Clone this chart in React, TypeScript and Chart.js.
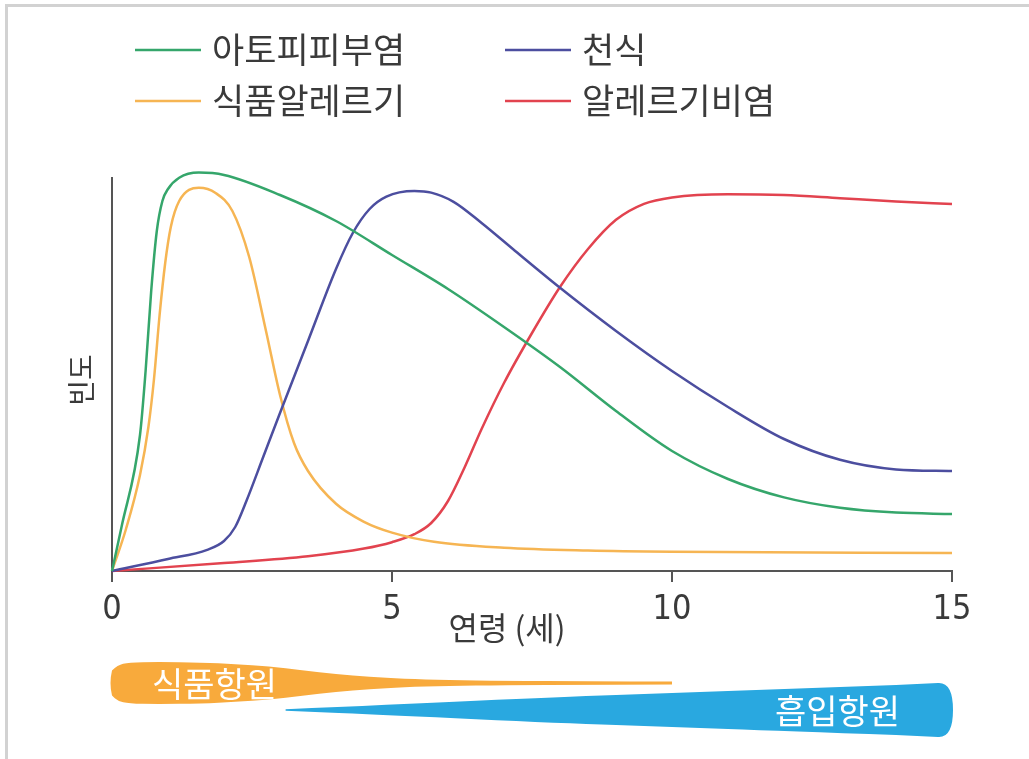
import React, { useEffect, useRef } from 'react';
import { Chart, registerables } from 'chart.js';

Chart.register(...registerables);

// ---------- data ----------
const xTickValues = [0, 5, 10, 15];
const seriesLabels = ['아토피피부염', '천식', '식품알레르기', '알레르기비염'];

const atopicAges = [0, 0.17, 0.5, 0.6, 0.7, 0.8, 0.9, 1.0, 1.2, 1.55, 2, 3, 4, 5, 6, 7, 8, 9, 10, 11, 12, 13, 14, 15];
const atopicValues = [0, 11, 34, 50, 70, 85, 92.5, 95.5, 98.3, 99.6, 99, 94, 87.5, 79, 70.5, 61, 51, 40, 30, 23, 18.4, 15.8, 14.6, 14.25];

const asthmaAges = [0, 1, 1.7, 2.0, 2.2, 2.4, 2.7, 3.0, 3.5, 4.0, 4.3, 4.6, 4.9, 5.4, 5.7, 6.1, 6.6, 7.2, 8, 9, 10, 11, 12, 13, 14, 15];
const asthmaValues = [0, 3, 5.3, 7.5, 11, 17.5, 28.5, 39.5, 57.5, 75.5, 84.5, 90.5, 93.6, 95, 94.6, 92.3, 87, 80, 70.8, 60, 50, 41, 33, 27.8, 25.4, 25];

const foodAllergyAges = [0, 0.25, 0.5, 0.65, 0.75, 0.85, 0.95, 1.05, 1.2, 1.55, 1.85, 2.15, 2.45, 2.75, 3.0, 3.25, 3.5, 4.0, 4.5, 5.0, 5.75, 7, 8.5, 10, 15];
const foodAllergyValues = [0, 10.5, 24, 36, 48, 64, 77, 86, 92.5, 95.8, 94.5, 90, 78.5, 60, 44, 32, 25, 16.8, 12.3, 9.6, 7.3, 5.8, 5.1, 4.8, 4.5];

const rhinitisAges = [0, 2, 3.5, 4.5, 5.0, 5.4, 5.7, 6.0, 6.3, 6.6, 7.0, 7.5, 8.0, 8.5, 9.0, 9.5, 10, 11, 12, 13, 14, 15];
const rhinitisValues = [0, 2, 3.7, 5.6, 7.2, 9.2, 12, 17.5, 26, 35.5, 47, 59.5, 71, 80.5, 87.8, 91.8, 93.4, 94.2, 94, 93.2, 92.4, 91.75];

// antigen exposure bands (relative intensity 0..1)
const foodAntigenLabel = '식품항원';
const foodAntigenAges = [0, 0.1, 0.3, 0.8, 1.6, 2.2, 2.8, 3.4, 4.0, 4.6, 5.2, 6.0, 7.0, 8.5, 10];
const foodAntigenLevels = [0.6, 0.85, 0.98, 1, 0.98, 0.9, 0.8, 0.6, 0.42, 0.3, 0.2, 0.14, 0.1, 0.08, 0.07];

const inhalantAntigenLabel = '흡입항원';
const inhalantAntigenAges = [3.1, 5, 8, 10, 12, 14, 15];
const inhalantAntigenLevels = [0.03, 0.2, 0.49, 0.63, 0.78, 0.93, 1.0];

// ---------- styles ----------
const W = 1029;
const H = 759;
const KR = '"Noto Sans CJK KR", "Noto Sans", sans-serif';
const NUM = '"Liberation Sans Narrow", "DejaVu Sans Condensed", "Liberation Sans", sans-serif';
const COLORS = ['#35a66b', '#4c4e9f', '#f6b553', '#e2434f'];
const AXIS = '#555555';
const TEXT = '#3a3a3a';
const FOOD_BAND = '#f8aa3c';
const INHAL_BAND = '#29a8e0';

function smoothPath(ctx: CanvasRenderingContext2D, pts: { x: number; y: number }[], move: boolean) {
  if (move) ctx.moveTo(pts[0].x, pts[0].y);
  else ctx.lineTo(pts[0].x, pts[0].y);
  for (let i = 1; i < pts.length - 1; i++) {
    const mx = (pts[i].x + pts[i + 1].x) / 2;
    const my = (pts[i].y + pts[i + 1].y) / 2;
    ctx.quadraticCurveTo(pts[i].x, pts[i].y, mx, my);
  }
  const last = pts[pts.length - 1];
  ctx.lineTo(last.x, last.y);
}

export default function App() {
  const ref = useRef<HTMLCanvasElement>(null);

  useEffect(() => {
    document.body.style.margin = '0';
    const canvas = ref.current!;
    const toPts = (xs: number[], ys: number[]) => xs.map((x, i) => ({ x, y: ys[i] }));
    const line = (label: string, color: string, xs: number[], ys: number[]) => ({
      label,
      data: toPts(xs, ys),
      borderColor: color,
      backgroundColor: color,
      borderWidth: 2.5,
      pointRadius: 0,
      pointHoverRadius: 0,
      cubicInterpolationMode: 'monotone' as const,
      fill: false,
      clip: false as any,
    });

    const decor = {
      id: 'decor',
      afterDraw(chart: any) {
        const c: CanvasRenderingContext2D = chart.ctx;
        const xs = chart.scales.x;
        const area = chart.chartArea;
        c.save();

        // legend
        const legendPos = [
          { x: 135, y: 50 },
          { x: 505, y: 50 },
          { x: 135, y: 101 },
          { x: 505, y: 101 },
        ];
        chart.data.datasets.forEach((ds: any, i: number) => {
          const p = legendPos[i];
          c.strokeStyle = ds.borderColor;
          c.lineWidth = 2.5;
          c.beginPath();
          c.moveTo(p.x, p.y);
          c.lineTo(p.x + 66, p.y);
          c.stroke();
          c.fillStyle = TEXT;
          c.font = `35px ${KR}`;
          c.textAlign = 'left';
          c.textBaseline = 'middle';
          c.fillText(ds.label, p.x + 77, p.y);
        });

        // axis titles
        c.fillStyle = TEXT;
        c.font = `32px ${KR}`;
        c.textAlign = 'center';
        c.textBaseline = 'middle';
        c.fillText('연령 (세)', 507, 628);

        c.save();
        c.translate(81, 380);
        c.rotate(-Math.PI / 2);
        c.font = `28px ${KR}`;
        c.fillText('빈도', 0, 0);
        c.restore();

        // food antigen band
        const fCenter = area.bottom + 112;
        const fMax = 21;
        const fTop = foodAntigenAges.map((a, i) => ({ x: xs.getPixelForValue(a), y: fCenter - foodAntigenLevels[i] * fMax }));
        const fBot = foodAntigenAges.map((a, i) => ({ x: xs.getPixelForValue(a), y: fCenter + foodAntigenLevels[i] * fMax })).reverse();
        c.fillStyle = FOOD_BAND;
        c.beginPath();
        smoothPath(c, fTop, true);
        smoothPath(c, fBot, false);
        const fx0 = xs.getPixelForValue(0);
        c.quadraticCurveTo(fx0 - 3, fCenter, fTop[0].x, fTop[0].y);
        c.closePath();
        c.fill();

        // inhalant antigen band
        const iCenter = area.bottom + 139;
        const iMax = 27;
        const iTop = inhalantAntigenAges.map((a, i) => ({ x: xs.getPixelForValue(a), y: iCenter - inhalantAntigenLevels[i] * iMax }));
        const iBot = inhalantAntigenAges.map((a, i) => ({ x: xs.getPixelForValue(a), y: iCenter + inhalantAntigenLevels[i] * iMax })).reverse();
        const iEnd = iTop[iTop.length - 1];
        c.fillStyle = INHAL_BAND;
        c.beginPath();
        smoothPath(c, iTop.slice(0, -1), true);
        c.lineTo(iEnd.x - 14, iEnd.y);
        c.quadraticCurveTo(iEnd.x + 1, iEnd.y - 1, iEnd.x + 1, iCenter);
        c.quadraticCurveTo(iEnd.x + 1, iCenter + iMax + 1, iEnd.x - 14, iCenter + iMax);
        smoothPath(c, iBot.slice(1), false);
        c.closePath();
        c.fill();

        // band labels
        c.fillStyle = '#ffffff';
        c.font = `34px ${KR}`;
        c.textAlign = 'left';
        c.textBaseline = 'middle';
        c.fillText(foodAntigenLabel, xs.getPixelForValue(0) + 40, fCenter + 1);
        c.textAlign = 'right';
        c.fillText(inhalantAntigenLabel, xs.getPixelForValue(15) - 52, iCenter + 1);

        c.restore();
      },
    };

    const chart = new Chart(canvas, {
      type: 'line',
      data: {
        datasets: [
          line(seriesLabels[0], COLORS[0], atopicAges, atopicValues),
          line(seriesLabels[1], COLORS[1], asthmaAges, asthmaValues),
          line(seriesLabels[2], COLORS[2], foodAllergyAges, foodAllergyValues),
          line(seriesLabels[3], COLORS[3], rhinitisAges, rhinitisValues),
        ] as any,
      },
      options: {
        responsive: false,
        animation: false,
        devicePixelRatio: 1,
        layout: { padding: { left: 112, right: 77, top: 178, bottom: 128 } },
        plugins: { legend: { display: false }, tooltip: { enabled: false } },
        events: [],
        scales: {
          x: {
            type: 'linear',
            min: 0,
            max: 15,
            afterBuildTicks: (s: any) => {
              s.ticks = xTickValues.map((v) => ({ value: v }));
            },
            afterFit: (s: any) => {
              s.height = 60;
            },
            ticks: {
              font: { family: NUM, size: 34 },
              color: TEXT,
              padding: 8,
              maxRotation: 0,
              autoSkip: false,
            },
            grid: { drawOnChartArea: false, drawTicks: true, tickLength: 11, color: AXIS, lineWidth: 2 },
            border: { display: true, color: AXIS, width: 2 },
          },
          y: {
            min: 0,
            max: 98.25,
            afterFit: (s: any) => {
              s.width = 0;
            },
            ticks: { display: false },
            grid: { display: false },
            border: { display: true, color: AXIS, width: 2 },
          },
        },
      },
      plugins: [decor],
    });
    return () => chart.destroy();
  }, []);

  return (
    <div style={{ position: 'fixed', left: 0, top: 0, width: W, height: H, background: '#fff', overflow: 'hidden' }}>
      <div style={{ position: 'absolute', left: 5, top: 4, right: 0, height: 3, background: '#d2d2d2' }} />
      <div style={{ position: 'absolute', left: 5, top: 4, bottom: 0, width: 3, background: '#d2d2d2' }} />
      <canvas ref={ref} width={W} height={H} style={{ position: 'absolute', left: 0, top: 0, width: W, height: H }} />
    </div>
  );
}
